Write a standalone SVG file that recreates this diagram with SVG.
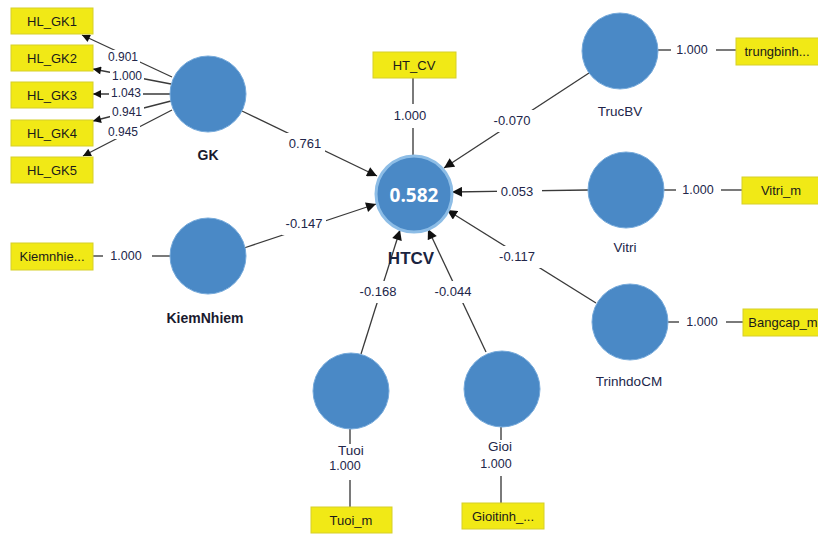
<svg xmlns="http://www.w3.org/2000/svg" width="818" height="534" viewBox="0 0 818 534">
<defs>
<marker id="arr" viewBox="0 0 10 10" refX="10" refY="5" markerWidth="11" markerHeight="10" orient="auto" markerUnits="userSpaceOnUse">
<path d="M0,0 L10,5 L0,10 Z" fill="#111"/>
</marker>
<marker id="arrs" viewBox="0 0 10 10" refX="10" refY="5" markerWidth="9" markerHeight="8" orient="auto" markerUnits="userSpaceOnUse">
<path d="M0,0 L10,5 L0,10 Z" fill="#111"/>
</marker>
</defs>
<style>
.lv{fill:#4a89c6;stroke:#76aadb;stroke-width:1}
.ind rect{fill:#f1e916;stroke:#d6cf2a;stroke-width:1}
.ind text{font-family:"Liberation Sans",Arial,sans-serif;font-size:13px;fill:#1a1a1a;text-anchor:middle}
.path{stroke:#3a3a3a;stroke-width:1.3;fill:none}
.load{stroke:#7a7a7a;stroke-width:2;fill:none}
.lbl rect{fill:#fff}
.lbl text{font-family:"Liberation Sans",Arial,sans-serif;font-size:12.5px;fill:#22264a;text-anchor:middle}
.lbl text.p{font-size:13px}
.lbl text.g{font-size:12px}
.name{font-family:"Liberation Sans",Arial,sans-serif;font-size:13.5px;fill:#22264a;text-anchor:middle}
.bname{font-family:"Liberation Sans",Arial,sans-serif;font-size:14px;font-weight:bold;fill:#1a1a2e;text-anchor:middle}
</style>
<rect width="818" height="534" fill="#fff"/>

<g id="connectors">
<!-- GK loadings -->
<line class="path" x1="172" y1="77" x2="82" y2="35" marker-end="url(#arrs)"/>
<line class="path" x1="171" y1="84" x2="93" y2="69" marker-end="url(#arrs)"/>
<line class="path" x1="170" y1="94" x2="93" y2="94" marker-end="url(#arrs)"/>
<line class="path" x1="171" y1="101" x2="93" y2="121" marker-end="url(#arrs)"/>
<line class="path" x1="172" y1="110" x2="83" y2="156" marker-end="url(#arrs)"/>
<!-- single-indicator loadings -->
<line class="load" x1="413" y1="78" x2="413" y2="155"/>
<line class="load" x1="93" y1="256" x2="170" y2="256"/>
<line class="load" x1="658" y1="50" x2="736" y2="50"/>
<line class="load" x1="664" y1="190" x2="742" y2="190"/>
<line class="load" x1="668" y1="322" x2="743" y2="322"/>
<line class="load" x1="350" y1="429" x2="350" y2="507"/>
<line class="load" x1="501" y1="427" x2="501" y2="503"/>
<!-- structural paths -->
<line class="path" x1="242" y1="111" x2="377" y2="176" marker-end="url(#arr)"/>
<line class="path" x1="244" y1="248" x2="376" y2="204" marker-end="url(#arr)"/>
<line class="path" x1="589" y1="73" x2="444" y2="168" marker-end="url(#arr)"/>
<line class="path" x1="588" y1="190" x2="452" y2="192" marker-end="url(#arr)"/>
<line class="path" x1="596" y1="303" x2="447" y2="210" marker-end="url(#arr)"/>
<line class="path" x1="361" y1="354" x2="400" y2="230" marker-end="url(#arr)"/>
<line class="path" x1="486" y1="352" x2="428" y2="229" marker-end="url(#arr)"/>

<g class="lbl">
<rect x="106" y="50" width="34" height="14"/><text class="g" x="123" y="61">0.901</text>
<rect x="110" y="69" width="34" height="14"/><text class="g" x="127" y="80">1.000</text>
<rect x="109" y="86" width="34" height="14"/><text class="g" x="126" y="97">1.043</text>
<rect x="110" y="105" width="34" height="14"/><text class="g" x="127" y="116">0.941</text>
<rect x="106" y="125" width="34" height="14"/><text class="g" x="123" y="136">0.945</text>

<rect x="392" y="104" width="40" height="24"/><text class="p" x="410" y="120">1.000</text>
<rect x="286" y="133" width="39" height="22"/><text class="p" x="305" y="148">0.761</text>
<rect x="282" y="213" width="44" height="22"/><text class="p" x="304" y="228">-0.147</text>
<rect x="489" y="110" width="46" height="22"/><text class="p" x="512" y="125">-0.070</text>
<rect x="497" y="181" width="45" height="20"/><text class="p" x="517" y="196">0.053</text>
<rect x="493" y="246" width="48" height="22"/><text class="p" x="517" y="261">-0.117</text>
<rect x="353" y="281" width="48" height="22"/><text class="p" x="378" y="296">-0.168</text>
<rect x="429" y="281" width="48" height="22"/><text class="p" x="453" y="296">-0.044</text>

<rect x="103" y="246" width="49" height="20"/><text x="126" y="260">1.000</text>
<rect x="671" y="40" width="45" height="20"/><text x="692" y="54">1.000</text>
<rect x="676" y="180" width="45" height="20"/><text x="698" y="194">1.000</text>
<rect x="679" y="312" width="47" height="20"/><text x="702" y="326">1.000</text>
<rect x="327" y="444" width="42" height="36"/><text x="345" y="470">1.000</text>
<rect x="477" y="440" width="42" height="36"/><text x="496" y="468">1.000</text>
</g>
</g>

<g id="HL_GK1" class="ind"><rect x="11" y="8" width="82" height="26"/><text x="52" y="25.5">HL_GK1</text></g>
<g id="HL_GK2" class="ind"><rect x="11" y="45" width="82" height="26"/><text x="52" y="62.5">HL_GK2</text></g>
<g id="HL_GK3" class="ind"><rect x="11" y="82" width="82" height="26"/><text x="52" y="99.5">HL_GK3</text></g>
<g id="HL_GK4" class="ind"><rect x="11" y="120" width="82" height="26"/><text x="52" y="137.5">HL_GK4</text></g>
<g id="HL_GK5" class="ind"><rect x="11" y="157" width="82" height="26"/><text x="52" y="174.5">HL_GK5</text></g>
<g id="HT_CV" class="ind"><rect x="373" y="52" width="83" height="26"/><text x="414" y="69.5">HT_CV</text></g>
<g id="Kiemnhie" class="ind"><rect x="11" y="243" width="82" height="27"/><text x="52" y="261">Kiemnhie...</text></g>
<g id="trungbinh" class="ind"><rect x="736" y="38" width="84" height="27"/><text x="777" y="56">trungbinh...</text></g>
<g id="Vitri_m" class="ind"><rect x="742" y="177" width="78" height="27"/><text x="781" y="195">Vitri_m</text></g>
<g id="Bangcap_m" class="ind"><rect x="743" y="309" width="78" height="27"/><text x="783" y="327">Bangcap_m</text></g>
<g id="Tuoi_m" class="ind"><rect x="311" y="507" width="81" height="26"/><text x="351" y="524.5">Tuoi_m</text></g>
<g id="Gioitinh" class="ind"><rect x="462" y="503" width="82" height="26"/><text x="503" y="520.5">Gioitinh_...</text></g>

<g id="GK"><circle class="lv" cx="208" cy="94" r="38"/><text class="bname" x="208" y="160">GK</text></g>
<g id="KiemNhiem"><circle class="lv" cx="208" cy="256" r="38"/><text class="bname" x="205" y="323">KiemNhiem</text></g>
<g id="HTCV">
<circle cx="414" cy="194" r="38" fill="#4a89c6" stroke="#8dbde6" stroke-width="3"/>
<text x="414" y="202" font-family="'Open Sans','Liberation Sans',sans-serif" font-size="19" font-weight="bold" fill="#fff" text-anchor="middle">0.582</text>
<text x="411" y="264" font-family="'Liberation Sans',Arial,sans-serif" font-size="17" font-weight="bold" fill="#1a2440" text-anchor="middle">HTCV</text>
</g>
<g id="TrucBV"><circle class="lv" cx="620" cy="51" r="38"/><text class="name" x="620" y="116">TrucBV</text></g>
<g id="Vitri"><circle class="lv" cx="626" cy="190" r="38"/><text class="name" x="625" y="252">Vitri</text></g>
<g id="TrinhdoCM"><circle class="lv" cx="630" cy="322" r="38"/><text class="name" x="629" y="386">TrinhdoCM</text></g>
<g id="Tuoi"><circle class="lv" cx="351" cy="391" r="38"/><text class="name" x="351" y="455">Tuoi</text></g>
<g id="Gioi"><circle class="lv" cx="502" cy="389" r="38"/><text class="name" x="500" y="451">Gioi</text></g>
</svg>
